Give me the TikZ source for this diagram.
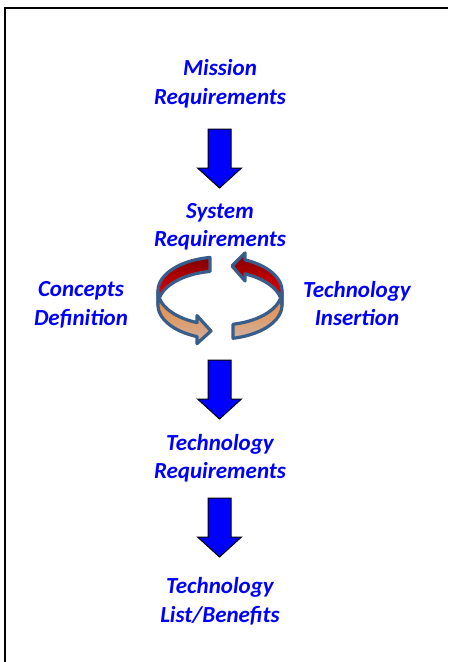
\documentclass[tikz,border=0pt]{standalone}
\usepackage{fontspec}
\setmainfont{Carlito}
\usepackage{tikz}
\usetikzlibrary{calc}
\definecolor{ringblue}{RGB}{56,93,138}
\definecolor{ringdark}{RGB}{125,0,0}
\definecolor{ringorange}{RGB}{238,132,40}
\definecolor{ringtan}{RGB}{208,176,160}
\def\blockarrow(#1){\draw[blockarrow] ($(#1)+(-11.5,0)$) -- ++(23,0) -- ++(0,39) -- ++(10.5,0) -- ++(-22,20) -- ++(-22,-20) -- ++(10.5,0) -- cycle;}

\begin{document}
\begin{tikzpicture}[x=1pt, y=-1pt,
	titletext/.style={anchor=base, align=center, text=blue, font=\fontsize{23}{28.5}\selectfont\bfseries\itshape},
	blockarrow/.style={draw=black, line width=1pt, fill=blue, line join=miter},
	ringred/.style={draw=ringblue, line width=3.2pt, line join=round, top color=ringdark, middle color=red!88!black, bottom color=red},
	ringpale/.style={draw=ringblue, line width=3.2pt, line join=round, top color=ringorange, bottom color=ringtan}]
		%%%%% START %%%%%
		
		\useasboundingbox (0,0) rectangle (448,662);
		\draw[line width=1.5pt] (5,662) -- (5,8) -- (448,8);
		
		% anchor=base sits on the last line
		\node[titletext] (mission) at (220,104) {Mission\\Requirements};
		\node[titletext] (system) at (220,246.5) {System\\Requirements};
		\node[titletext] (concepts) at (81,325) {Concepts\\Definition};
		\node[titletext] (insertion) at (357,325.5) {Technology\\Insertion};
		\node[titletext] (techreq) at (220,478.5) {Technology\\Requirements};
		\node[titletext] (techlist) at (220,622) {Technology\\List/Benefits};
		
		\coordinate (arrowA) at (219.5,129);
		\coordinate (arrowB) at (219.5,360);
		\coordinate (arrowC) at (219.5,498);
		\blockarrow(arrowA);
		\blockarrow(arrowB);
		\blockarrow(arrowC);
		
		% left half of the ring
		\draw[ringred] plot[domain=260.7:180, samples=30, variable=\t] ({220+62*cos(\t)},{291+34*sin(\t)})
			-- plot[domain=180:260.7, samples=30, variable=\t] ({220+62*cos(\t)},{305+34*sin(\t)}) -- cycle;
		\draw[ringpale] plot[domain=180:111.8, samples=30, variable=\t] ({220+62*cos(\t)},{291+34*sin(\t)})
			-- (197,315.6) -- (211,331) -- (197,343.6)
			-- plot[domain=111.8:180, samples=30, variable=\t] ({220+62*cos(\t)},{305+34*sin(\t)}) -- cycle;
		
		% right half of the ring
		\draw[ringpale] plot[domain=77.9:0, samples=30, variable=\t] ({220+62*cos(\t)},{291+34*sin(\t)})
			-- plot[domain=0:77.9, samples=30, variable=\t] ({220+62*cos(\t)},{305+34*sin(\t)}) -- cycle;
		\draw[ringred] plot[domain=0:-66.2, samples=30, variable=\t] ({220+62*cos(\t)},{291+34*sin(\t)})
			-- (245,252.9) -- (232,266) -- (245,280.9)
			-- plot[domain=-66.2:0, samples=30, variable=\t] ({220+62*cos(\t)},{305+34*sin(\t)}) -- cycle;
		
		%%%%% END %%%%%
	\end{tikzpicture}
\end{document}
